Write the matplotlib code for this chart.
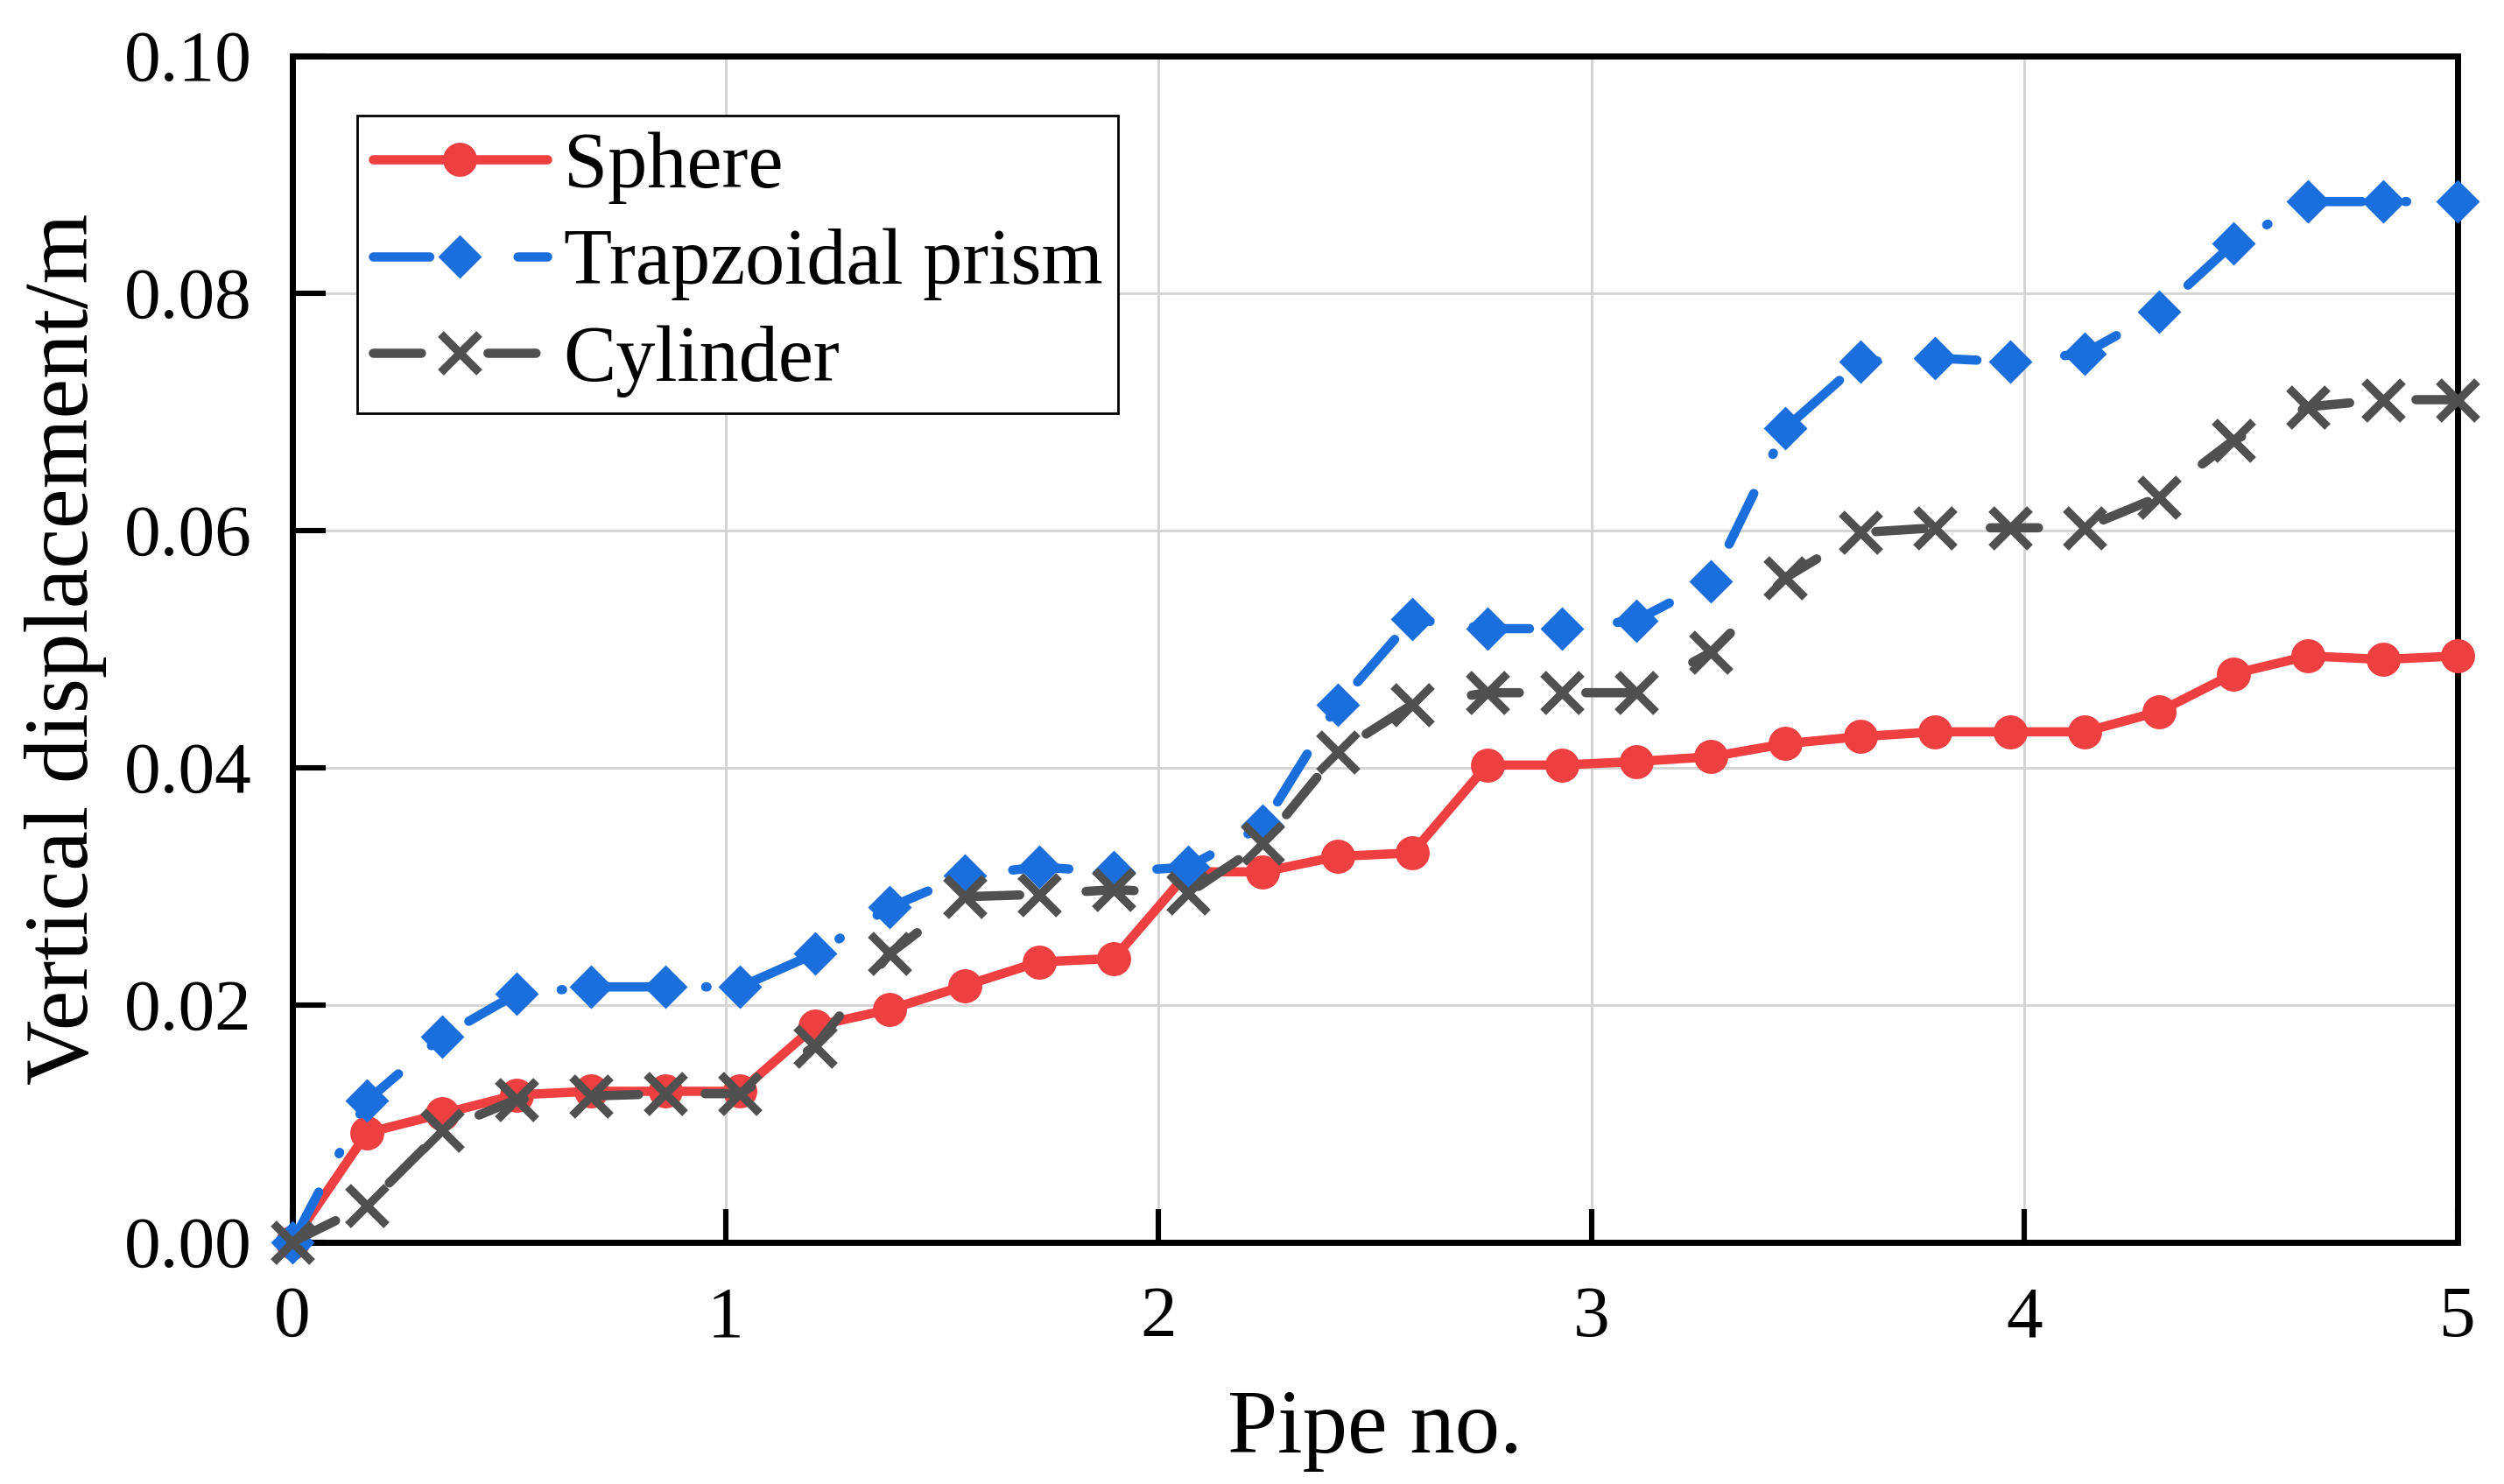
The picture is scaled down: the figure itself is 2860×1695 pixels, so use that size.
import matplotlib
matplotlib.use("Agg")
import matplotlib.pyplot as plt

plt.rcParams['font.family'] = ['Liberation Serif', 'DejaVu Serif']

pipe_no = [0.000, 0.172, 0.345, 0.517, 0.690, 0.862, 1.034, 1.207, 1.379, 1.552,
           1.724, 1.897, 2.069, 2.241, 2.414, 2.586, 2.759, 2.931, 3.103, 3.276,
           3.448, 3.621, 3.793, 3.966, 4.138, 4.310, 4.483, 4.655, 4.828, 5.000]

sphere = [0.0000, 0.0092, 0.0108, 0.0124, 0.0127, 0.0127, 0.0127, 0.0182, 0.0196, 0.0216,
          0.0236, 0.0239, 0.0312, 0.0312, 0.0325, 0.0328, 0.0402, 0.0402, 0.0405, 0.0409,
          0.0420, 0.0426, 0.0430, 0.0430, 0.0430, 0.0447, 0.0479, 0.0494, 0.0491, 0.0494]

trapz = [0.0000, 0.0119, 0.0173, 0.0209, 0.0215, 0.0215, 0.0215, 0.0243, 0.0282, 0.0309,
         0.0316, 0.0312, 0.0316, 0.0351, 0.0453, 0.0525, 0.0517, 0.0517, 0.0524, 0.0557,
         0.0686, 0.0742, 0.0745, 0.0742, 0.0749, 0.0784, 0.0842, 0.0877, 0.0877, 0.0877]

cylinder = [0.0000, 0.0031, 0.0094, 0.0120, 0.0123, 0.0125, 0.0125, 0.0165, 0.0243, 0.0291,
            0.0293, 0.0297, 0.0294, 0.0336, 0.0413, 0.0453, 0.0463, 0.0463, 0.0463, 0.0497,
            0.0560, 0.0598, 0.0602, 0.0602, 0.0602, 0.0628, 0.0676, 0.0704, 0.0710, 0.0710]

labels = ['Sphere', 'Trapzoidal prism', 'Cylinder']
xticks = [0, 1, 2, 3, 4, 5]
yticks = [0.00, 0.02, 0.04, 0.06, 0.08, 0.10]

fig = plt.figure(figsize=(14.3, 8.475), dpi=200)
ax = fig.add_axes([0.1168, 0.1631, 0.8647, 0.7994])

lw = 3.8
ax.plot(pipe_no, sphere, color='#EE4040', lw=lw, marker='o', ms=13,
        solid_capstyle='round', label=labels[0], clip_on=False, zorder=3)
ax.plot(pipe_no, trapz, color='#1A6FDC', lw=lw, marker='D', ms=11.5,
        linestyle=(0, (6.1, 4.7, 0.15, 4.7)), dash_capstyle='round',
        label=labels[1], clip_on=False, zorder=4)
ax.plot(pipe_no, cylinder, color='#505050', lw=lw, marker='x', ms=15.5, mew=3.4,
        linestyle=(0, (5.2, 7.2)), dash_capstyle='round',
        label=labels[2], clip_on=False, zorder=5)

ax.set_xlim(0, 5)
ax.set_ylim(0, 0.10)
ax.set_xticks(xticks)
ax.set_yticks(yticks)
ax.set_yticklabels([f'{v:.2f}' for v in yticks])
ax.grid(True, color='#D3D3D3', lw=1.0)
ax.set_axisbelow(True)

for s in ax.spines.values():
    s.set_linewidth(2.5)
    s.set_color('black')

ax.tick_params(axis='both', direction='in', length=13.7, width=2.2,
               labelsize=30, top=False, right=False)
ax.tick_params(axis='x', pad=18)
ax.tick_params(axis='y', pad=16.8)

ax.set_xlabel('Pipe no.', fontsize=37, labelpad=15.5)
ax.set_ylabel('Vertical displacement/m', fontsize=37, labelpad=7)

leg = ax.legend(loc='upper left', bbox_to_anchor=(0.0299, 0.9494), borderaxespad=0,
                fontsize=32.5, handlelength=2.2, handletextpad=0.21, borderpad=0.2,
                labelspacing=0.31, numpoints=1, fancybox=False, framealpha=1,
                edgecolor='black')
leg.get_frame().set_linewidth(1.0)

fig.savefig('out.png', dpi=200)
